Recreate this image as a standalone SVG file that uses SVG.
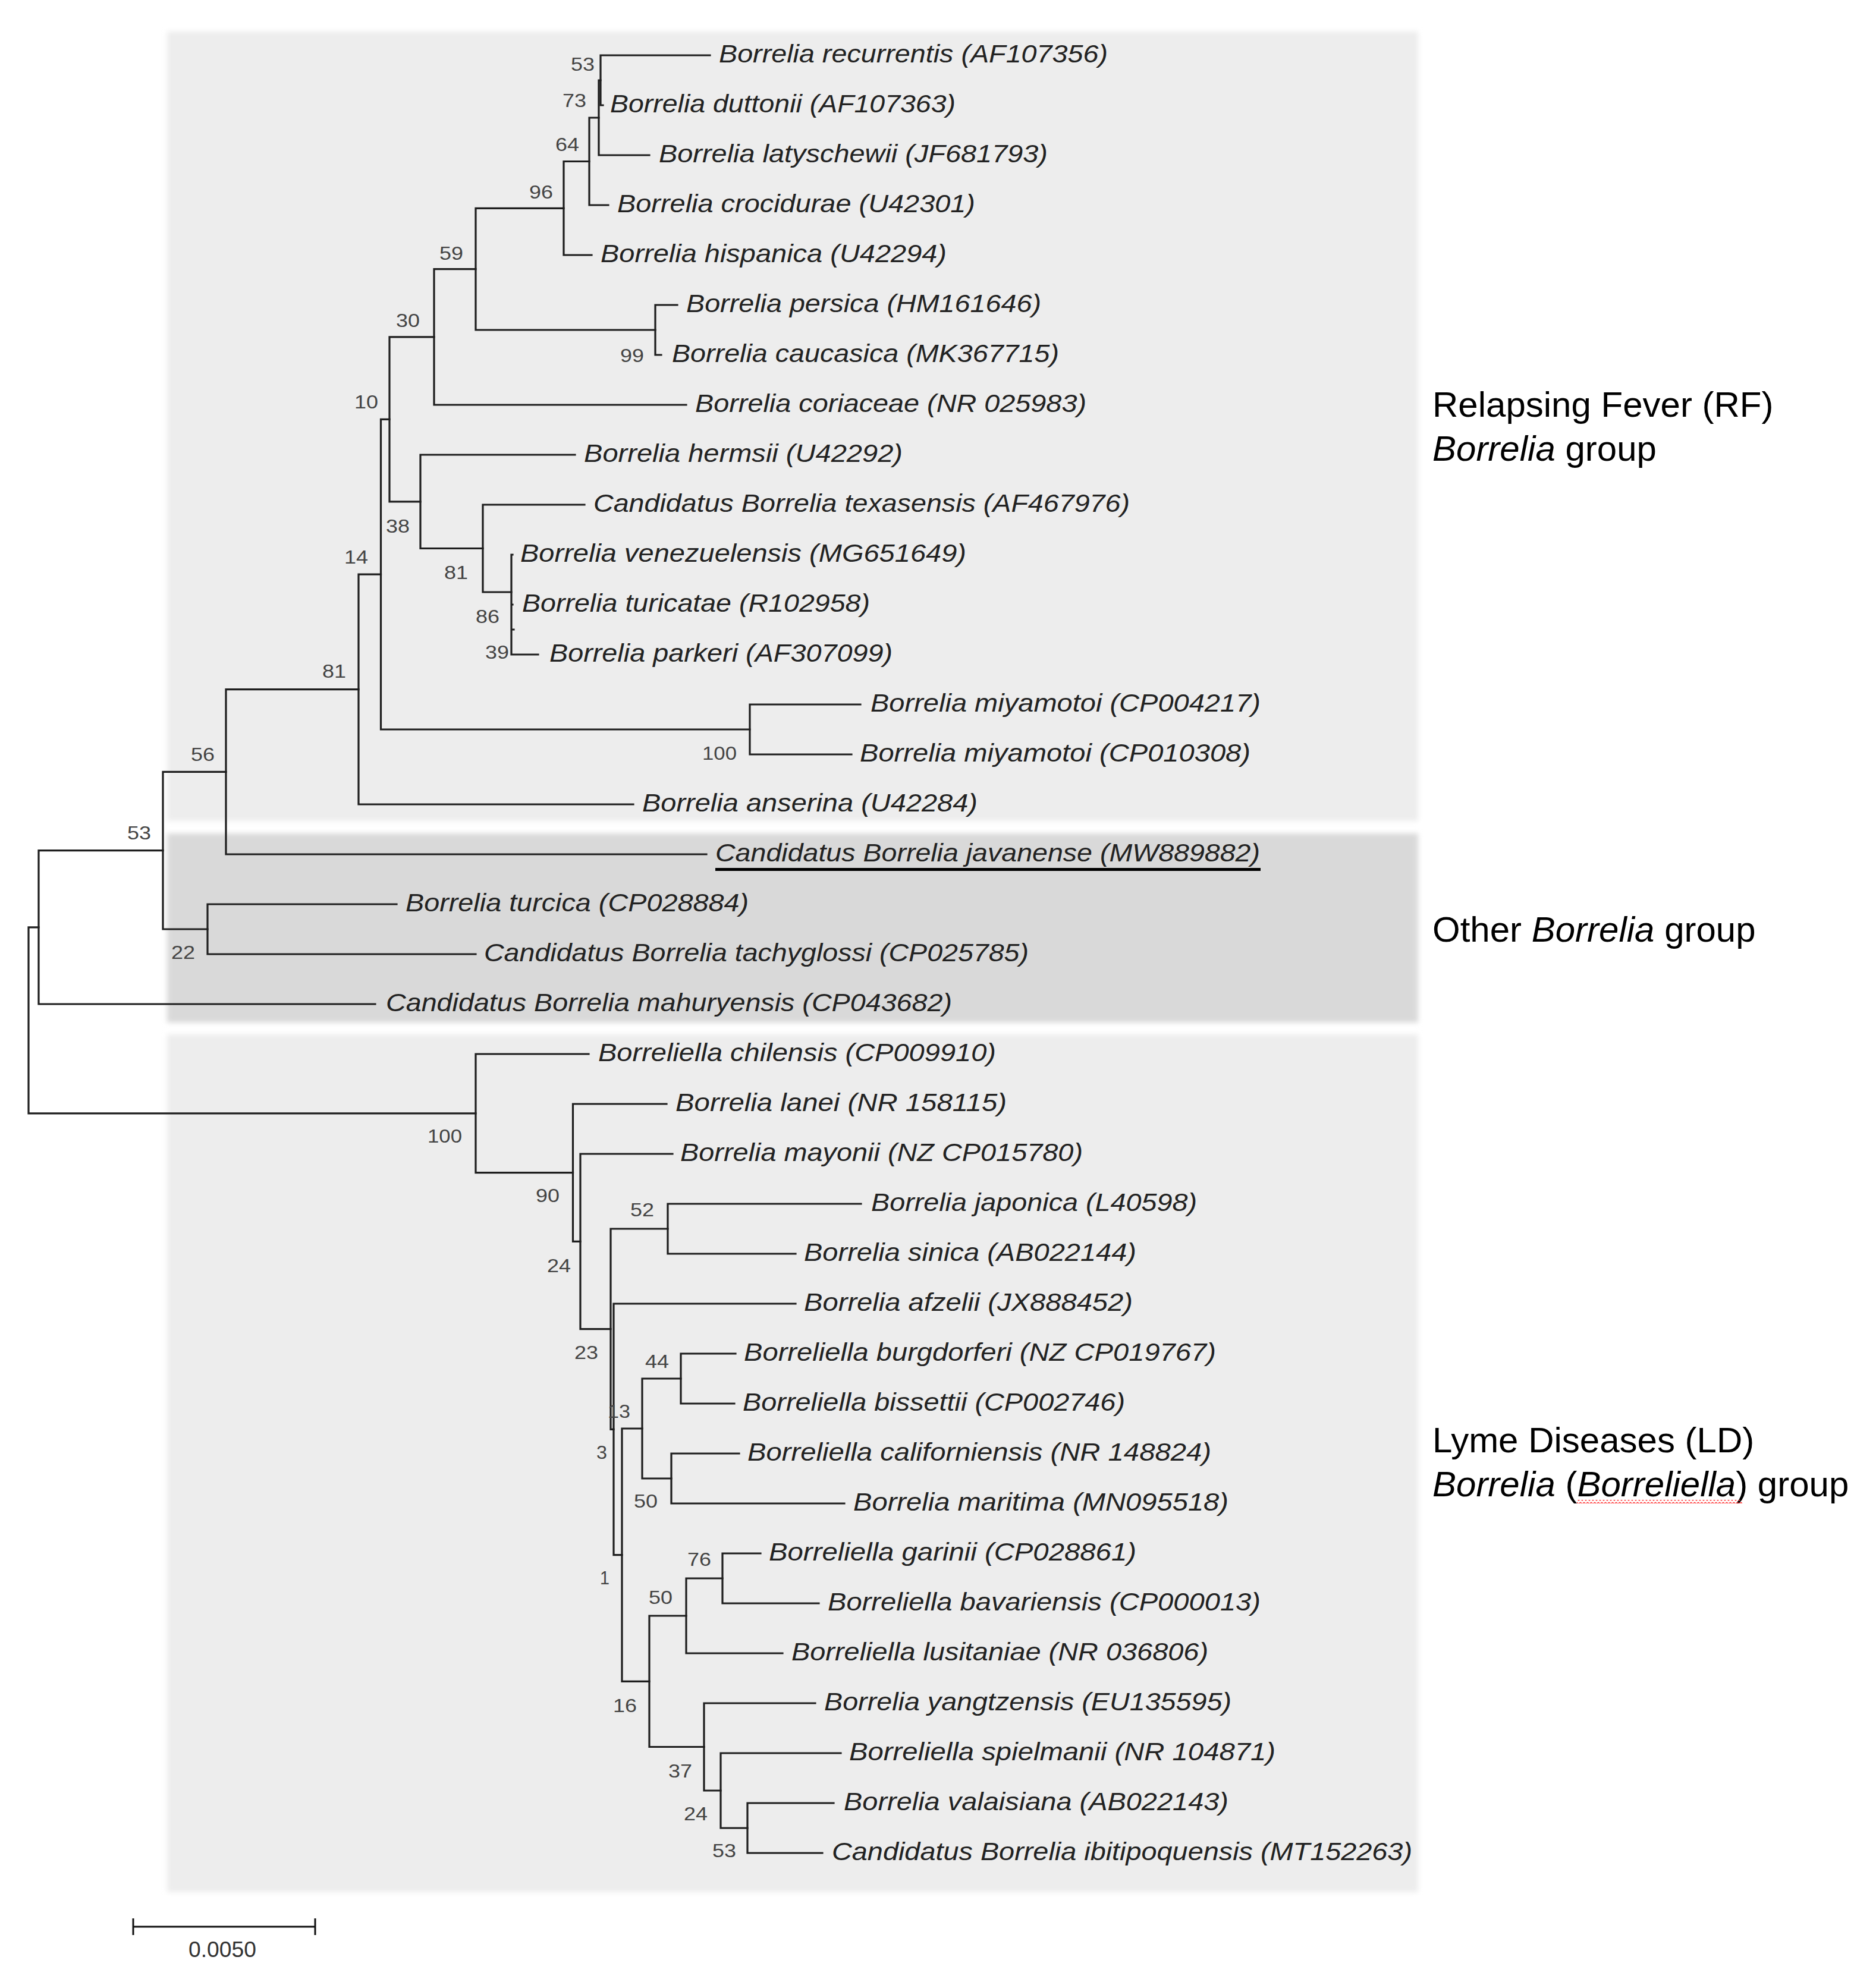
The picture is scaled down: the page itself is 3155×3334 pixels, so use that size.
<svg xmlns="http://www.w3.org/2000/svg" width="3155" height="3334" viewBox="0 0 3155 3334">
<style>
.br{fill:none;stroke:#1e1e1e;stroke-width:3.2;stroke-linecap:square}
.leaf{font-family:"Liberation Sans",Arial,sans-serif;font-style:italic;font-size:42px;fill:#222}
.bs{font-family:"Liberation Sans",Arial,sans-serif;font-size:32px;fill:#444;text-anchor:end}
.grp{font-family:"Liberation Sans",Arial,sans-serif;font-size:60px;fill:#000}
.it{font-style:italic}
</style>
<defs>
<filter id="soft" x="-5%" y="-5%" width="110%" height="110%"><feGaussianBlur stdDeviation="4"/></filter>
<pattern id="sq" x="0" y="0" width="6" height="6" patternUnits="userSpaceOnUse"><path d="M0,1 L3,4 L6,1" fill="none" stroke="#ff3030" stroke-width="1.4"/></pattern>
</defs>
<rect width="3155" height="3334" fill="#fff"/>
<g id="panels" filter="url(#soft)">
<rect x="281" y="53" width="2104" height="1328" fill="#ededed"/>
<rect x="281" y="1402" width="2104" height="318" fill="#d9d9d9"/>
<rect x="281" y="1740" width="2104" height="1443" fill="#ededed"/>
</g>
<g id="branches" class="br">
<path d="M48,1559.8V1872.8M48,1559.8H65M48,1872.8H800"/>
<path d="M65,1430.7V1689M65,1430.7H274M65,1689H631"/>
<path d="M274,1298.3V1563M274,1298.3H380M274,1563H349"/>
<path d="M349,1521V1605M349,1521H667M349,1605H800"/>
<path d="M380,1159.6V1437M380,1159.6H603M380,1437H1188"/>
<path d="M603,966.2V1353M603,966.2H640.5M603,1353H1065"/>
<path d="M640.5,705.3V1227M640.5,705.3H655M640.5,1227H1261"/>
<path d="M1261,1185V1269M1261,1185H1447M1261,1269H1432"/>
<path d="M655,566.8V843.8M655,566.8H730M655,843.8H707"/>
<path d="M730,452.6V681M730,452.6H800M730,681H1154"/>
<path d="M800,350.3V555M800,350.3H948M800,555H1102"/>
<path d="M948,271.5V429M948,271.5H991M948,429H995"/>
<path d="M991,198V345M991,198H1007M991,345H1023"/>
<path d="M1007,135V261M1007,135H1010M1007,261H1092"/>
<path d="M1010,93V177M1010,93H1194M1010,177H1014"/>
<path d="M1102,513V597M1102,513H1139M1102,597H1112"/>
<path d="M707,765V922.5M707,765H967M707,922.5H812"/>
<path d="M812,849V996M812,849H983M812,996H860"/>
<path d="M860,933V1101M860,933H862M860,1059H864M860,1017H862M860,1101H905"/>
<path d="M800,1773V1972.7M800,1773H990M800,1972.7H963.5"/>
<path d="M963.5,1857V2088.3M963.5,1857H1121M963.5,2088.3H976"/>
<path d="M976,1941V2235.7M976,1941H1131M976,2235.7H1027"/>
<path d="M1027,2067V2404.3M1027,2067H1123M1027,2404.3H1032"/>
<path d="M1123,2025V2109M1123,2025H1448M1123,2109H1338"/>
<path d="M1032,2193V2615.6M1032,2193H1338M1032,2615.6H1046"/>
<path d="M1046,2403V2828.3M1046,2403H1080M1046,2828.3H1092"/>
<path d="M1080,2319V2487M1080,2319H1145M1080,2487H1129"/>
<path d="M1145,2277V2361M1145,2277H1237M1145,2361H1235"/>
<path d="M1129,2445V2529M1129,2445H1243M1129,2529H1420"/>
<path d="M1092,2718V2938.5M1092,2718H1154M1092,2938.5H1184"/>
<path d="M1154,2655V2781M1154,2655H1215M1154,2781H1316"/>
<path d="M1215,2613V2697M1215,2613H1279M1215,2697H1377"/>
<path d="M1184,2865V3012M1184,2865H1371M1184,3012H1212"/>
<path d="M1212,2949V3075M1212,2949H1414M1212,3075H1257"/>
<path d="M1257,3033V3117M1257,3033H1402M1257,3117H1383"/>
</g>
<g id="taxa" class="leaf">
<g id="t01"><text x="1209" y="105" textLength="654" lengthAdjust="spacingAndGlyphs">Borrelia recurrentis (AF107356)</text></g>
<g id="t02"><text x="1026" y="189" textLength="581" lengthAdjust="spacingAndGlyphs">Borrelia duttonii (AF107363)</text></g>
<g id="t03"><text x="1108" y="273" textLength="654" lengthAdjust="spacingAndGlyphs">Borrelia latyschewii (JF681793)</text></g>
<g id="t04"><text x="1038" y="357" textLength="602" lengthAdjust="spacingAndGlyphs">Borrelia crocidurae (U42301)</text></g>
<g id="t05"><text x="1010" y="441" textLength="582" lengthAdjust="spacingAndGlyphs">Borrelia hispanica (U42294)</text></g>
<g id="t06"><text x="1154" y="525" textLength="597" lengthAdjust="spacingAndGlyphs">Borrelia persica (HM161646)</text></g>
<g id="t07"><text x="1130" y="609" textLength="651" lengthAdjust="spacingAndGlyphs">Borrelia caucasica (MK367715)</text></g>
<g id="t08"><text x="1169" y="693" textLength="658" lengthAdjust="spacingAndGlyphs">Borrelia coriaceae (NR 025983)</text></g>
<g id="t09"><text x="982" y="777" textLength="536" lengthAdjust="spacingAndGlyphs">Borrelia hermsii (U42292)</text></g>
<g id="t10"><text x="998" y="861" textLength="902" lengthAdjust="spacingAndGlyphs">Candidatus Borrelia texasensis (AF467976)</text></g>
<g id="t11"><text x="875" y="945" textLength="750" lengthAdjust="spacingAndGlyphs">Borrelia venezuelensis (MG651649)</text></g>
<g id="t12"><text x="878" y="1029" textLength="585" lengthAdjust="spacingAndGlyphs">Borrelia turicatae (R102958)</text></g>
<g id="t13"><text x="924" y="1113" textLength="577" lengthAdjust="spacingAndGlyphs">Borrelia parkeri (AF307099)</text></g>
<g id="t14"><text x="1464" y="1197" textLength="656" lengthAdjust="spacingAndGlyphs">Borrelia miyamotoi (CP004217)</text></g>
<g id="t15"><text x="1446" y="1281" textLength="657" lengthAdjust="spacingAndGlyphs">Borrelia miyamotoi (CP010308)</text></g>
<g id="t16"><text x="1080" y="1365" textLength="564" lengthAdjust="spacingAndGlyphs">Borrelia anserina (U42284)</text></g>
<g id="t17"><text x="1203" y="1449" textLength="916" lengthAdjust="spacingAndGlyphs">Candidatus Borrelia javanense (MW889882)</text><rect x="1203" y="1460" width="917" height="5" fill="#000"/></g>
<g id="t18"><text x="682" y="1533" textLength="577" lengthAdjust="spacingAndGlyphs">Borrelia turcica (CP028884)</text></g>
<g id="t19"><text x="814" y="1617" textLength="916" lengthAdjust="spacingAndGlyphs">Candidatus Borrelia tachyglossi (CP025785)</text></g>
<g id="t20"><text x="649" y="1701" textLength="952" lengthAdjust="spacingAndGlyphs">Candidatus Borrelia mahuryensis (CP043682)</text></g>
<g id="t21"><text x="1006" y="1785" textLength="669" lengthAdjust="spacingAndGlyphs">Borreliella chilensis (CP009910)</text></g>
<g id="t22"><text x="1136" y="1869" textLength="557" lengthAdjust="spacingAndGlyphs">Borrelia lanei (NR 158115)</text></g>
<g id="t23"><text x="1144" y="1953" textLength="677" lengthAdjust="spacingAndGlyphs">Borrelia mayonii (NZ CP015780)</text></g>
<g id="t24"><text x="1465" y="2037" textLength="548" lengthAdjust="spacingAndGlyphs">Borrelia japonica (L40598)</text></g>
<g id="t25"><text x="1352" y="2121" textLength="559" lengthAdjust="spacingAndGlyphs">Borrelia sinica (AB022144)</text></g>
<g id="t26"><text x="1352" y="2205" textLength="553" lengthAdjust="spacingAndGlyphs">Borrelia afzelii (JX888452)</text></g>
<g id="t27"><text x="1251" y="2289" textLength="794" lengthAdjust="spacingAndGlyphs">Borreliella burgdorferi (NZ CP019767)</text></g>
<g id="t28"><text x="1249" y="2373" textLength="643" lengthAdjust="spacingAndGlyphs">Borreliella bissettii (CP002746)</text></g>
<g id="t29"><text x="1257" y="2457" textLength="780" lengthAdjust="spacingAndGlyphs">Borreliella californiensis (NR 148824)</text></g>
<g id="t30"><text x="1435" y="2541" textLength="631" lengthAdjust="spacingAndGlyphs">Borrelia maritima (MN095518)</text></g>
<g id="t31"><text x="1293" y="2625" textLength="618" lengthAdjust="spacingAndGlyphs">Borreliella garinii (CP028861)</text></g>
<g id="t32"><text x="1392" y="2709" textLength="728" lengthAdjust="spacingAndGlyphs">Borreliella bavariensis (CP000013)</text></g>
<g id="t33"><text x="1331" y="2793" textLength="701" lengthAdjust="spacingAndGlyphs">Borreliella lusitaniae (NR 036806)</text></g>
<g id="t34"><text x="1386" y="2877" textLength="685" lengthAdjust="spacingAndGlyphs">Borrelia yangtzensis (EU135595)</text></g>
<g id="t35"><text x="1428" y="2961" textLength="717" lengthAdjust="spacingAndGlyphs">Borreliella spielmanii (NR 104871)</text></g>
<g id="t36"><text x="1419" y="3045" textLength="647" lengthAdjust="spacingAndGlyphs">Borrelia valaisiana (AB022143)</text></g>
<g id="t37"><text x="1399" y="3129" textLength="976" lengthAdjust="spacingAndGlyphs">Candidatus Borrelia ibitipoquensis (MT152263)</text></g>
</g>
<g id="bootstrap" class="bs">
<g id="n53b"><text x="1000" y="119" textLength="40" lengthAdjust="spacingAndGlyphs">53</text></g>
<g id="n73"><text x="986" y="180" textLength="40" lengthAdjust="spacingAndGlyphs">73</text></g>
<g id="n64"><text x="974" y="254" textLength="40" lengthAdjust="spacingAndGlyphs">64</text></g>
<g id="n96"><text x="930" y="334" textLength="40" lengthAdjust="spacingAndGlyphs">96</text></g>
<g id="n59"><text x="779" y="437" textLength="40" lengthAdjust="spacingAndGlyphs">59</text></g>
<g id="n30"><text x="706" y="550" textLength="40" lengthAdjust="spacingAndGlyphs">30</text></g>
<g id="n10"><text x="636" y="687" textLength="40" lengthAdjust="spacingAndGlyphs">10</text></g>
<g id="n99"><text x="1083" y="609" textLength="40" lengthAdjust="spacingAndGlyphs">99</text></g>
<g id="n38"><text x="689" y="896" textLength="40" lengthAdjust="spacingAndGlyphs">38</text></g>
<g id="n14"><text x="619" y="948" textLength="40" lengthAdjust="spacingAndGlyphs">14</text></g>
<g id="n81t"><text x="787" y="974" textLength="40" lengthAdjust="spacingAndGlyphs">81</text></g>
<g id="n86"><text x="840" y="1048" textLength="40" lengthAdjust="spacingAndGlyphs">86</text></g>
<g id="n39"><text x="856" y="1108" textLength="40" lengthAdjust="spacingAndGlyphs">39</text></g>
<g id="n81b"><text x="582" y="1140" textLength="40" lengthAdjust="spacingAndGlyphs">81</text></g>
<g id="n56"><text x="361" y="1280" textLength="40" lengthAdjust="spacingAndGlyphs">56</text></g>
<g id="n100m"><text x="1239" y="1278" textLength="58" lengthAdjust="spacingAndGlyphs">100</text></g>
<g id="n53a"><text x="254" y="1412" textLength="40" lengthAdjust="spacingAndGlyphs">53</text></g>
<g id="n22"><text x="328" y="1613" textLength="40" lengthAdjust="spacingAndGlyphs">22</text></g>
<g id="n100l"><text x="777" y="1922" textLength="58" lengthAdjust="spacingAndGlyphs">100</text></g>
<g id="n90"><text x="941" y="2022" textLength="40" lengthAdjust="spacingAndGlyphs">90</text></g>
<g id="n52"><text x="1100" y="2046" textLength="40" lengthAdjust="spacingAndGlyphs">52</text></g>
<g id="n24u"><text x="960" y="2140" textLength="40" lengthAdjust="spacingAndGlyphs">24</text></g>
<g id="n23"><text x="1006" y="2286" textLength="40" lengthAdjust="spacingAndGlyphs">23</text></g>
<g id="n44"><text x="1125" y="2301" textLength="40" lengthAdjust="spacingAndGlyphs">44</text></g>
<g id="n13"><text x="1060" y="2385" textLength="38" lengthAdjust="spacingAndGlyphs">13</text></g>
<g id="n3"><text x="1021" y="2454" textLength="18" lengthAdjust="spacingAndGlyphs">3</text></g>
<g id="n50u"><text x="1106" y="2536" textLength="40" lengthAdjust="spacingAndGlyphs">50</text></g>
<g id="n1"><text x="1025" y="2665" textLength="16" lengthAdjust="spacingAndGlyphs">1</text></g>
<g id="n76"><text x="1196" y="2634" textLength="40" lengthAdjust="spacingAndGlyphs">76</text></g>
<g id="n50l"><text x="1131" y="2698" textLength="40" lengthAdjust="spacingAndGlyphs">50</text></g>
<g id="n16"><text x="1071" y="2880" textLength="40" lengthAdjust="spacingAndGlyphs">16</text></g>
<g id="n37"><text x="1164" y="2990" textLength="40" lengthAdjust="spacingAndGlyphs">37</text></g>
<g id="n24l"><text x="1190" y="3062" textLength="40" lengthAdjust="spacingAndGlyphs">24</text></g>
<g id="n53c"><text x="1238" y="3124" textLength="40" lengthAdjust="spacingAndGlyphs">53</text></g>
</g>
<g id="groups" class="grp">
<g id="g-rf"><text x="2409" y="701">Relapsing Fever (RF)</text><text x="2409" y="775"><tspan class="it">Borrelia</tspan> group</text></g>
<g id="g-other"><text x="2409" y="1584">Other <tspan class="it">Borrelia</tspan> group</text></g>
<g id="g-ld"><text x="2409" y="2443">Lyme Diseases (LD)</text><text x="2409" y="2517"><tspan class="it">Borrelia</tspan> (<tspan class="it">Borreliella</tspan>) group</text><rect x="2652" y="2523" width="278" height="6" fill="url(#sq)"/></g>
</g>
<g id="scalebar">
<path d="M224,3241H530M224,3227V3255M530,3227V3255" fill="none" stroke="#111" stroke-width="3"/>
<text x="374" y="3292" text-anchor="middle" textLength="114" lengthAdjust="spacingAndGlyphs" style="font-family:'Liberation Sans',Arial,sans-serif;font-size:36px;fill:#333">0.0050</text>
</g>
</svg>
